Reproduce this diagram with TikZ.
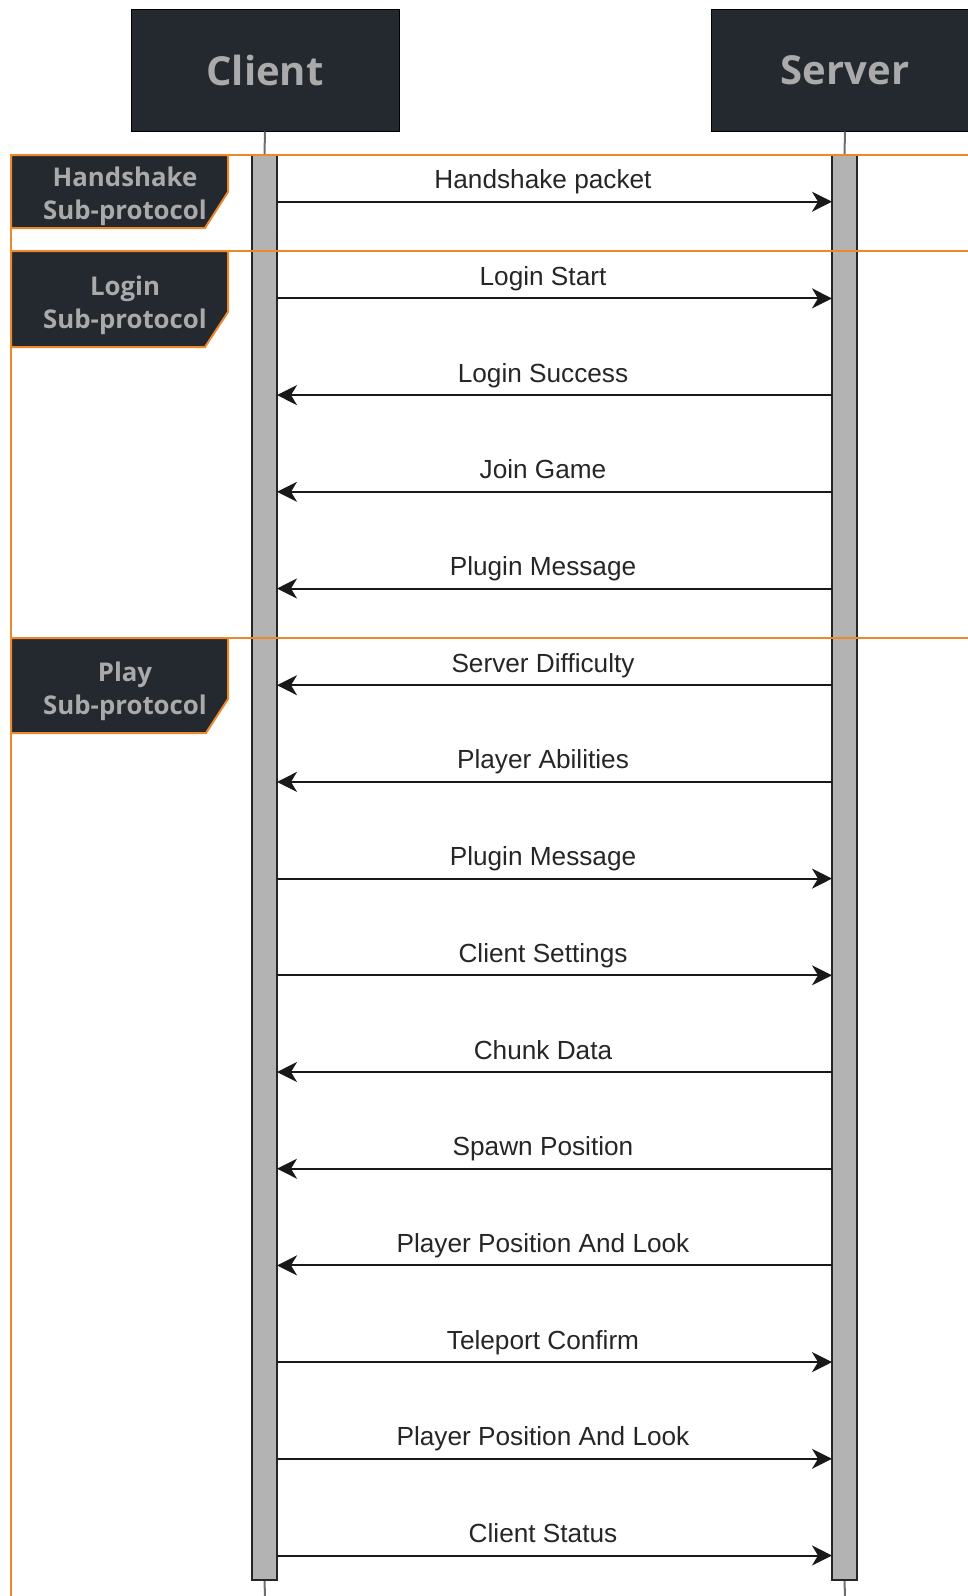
\documentclass[tikz,border=0pt]{standalone}
\usepackage{fontspec}
\setmainfont{Liberation Sans}
\newfontfamily\hdfont{Open Sans}
\usetikzlibrary{arrows.meta}
\definecolor{ink}{RGB}{36,41,48}
\definecolor{frameor}{RGB}{239,136,45}
\definecolor{hdtext}{RGB}{170,170,170}
\definecolor{barfill}{RGB}{179,179,179}
\definecolor{lifegray}{RGB}{110,110,110}
\begin{document}
\begin{tikzpicture}[x=0.5pt,y=-0.5pt,
  hdr/.style={draw=black, line width=0.5pt, fill=ink, minimum width=134pt,
    minimum height=61pt, inner sep=0pt, text=hdtext,
    font=\hdfont\bfseries\fontsize{20}{24}\selectfont},
  actbar/.style={draw=black!85, line width=1pt, fill=barfill,
    minimum width=12.5pt, inner sep=0pt},
  lifeline/.style={draw=lifegray, line width=1pt},
  frameline/.style={draw=frameor, line width=1pt},
  tagbox/.style={draw=frameor, line width=1pt, fill=ink},
  tagtext/.style={text=hdtext, align=center, inner sep=0pt,
    font=\hdfont\bfseries\fontsize{12.9}{16.5}\selectfont},
  msg/.style={draw=black!90, line width=1pt, -{Stealth[length=10pt,width=10pt,inset=3pt]}},
  msglabel/.style={anchor=base, inner sep=0pt, text=black!85,
    font=\fontsize{13.1}{15}\selectfont}
]
\useasboundingbox (0,0) rectangle (968,1596);
\clip (0,0) rectangle (968,1596);

% participants
\node[hdr] (client) at (265,70) {Client};
\node[hdr] (server) at (845,70) {Server};

% activation bars
\node[actbar, minimum height=712.5pt] (cbar) at (264.5,867.5) {};
\node[actbar, minimum height=712.5pt] (sbar) at (844.5,867.5) {};

% lifeline stubs above and below the bars
\coordinate (cend) at (265,1596);
\coordinate (send) at (845,1596);
\draw[lifeline] (client.south) -- (cbar.north);
\draw[lifeline] (server.south) -- (sbar.north);
\draw[lifeline] (cbar.south) -- (cend);
\draw[lifeline] (sbar.south) -- (send);

% sub-protocol frames
\draw[frameline] (11,155) rectangle (1000,251);
\draw[frameline] (11,251) rectangle (1000,638);
\draw[frameline] (11,638) rectangle (1000,1640);

% frame tags
\draw[tagbox] (11,155) -- (228,155) -- (228,192) -- (205,228) -- (11,228) -- cycle;
\node[tagtext] (tagHand) at (125,196) {Handshake\\Sub-protocol};
\draw[tagbox] (11,251) -- (228,251) -- (228,312) -- (205,347) -- (11,347) -- cycle;
\node[tagtext] (tagLogin) at (125,305) {Login\\Sub-protocol};
\draw[tagbox] (11,638) -- (228,638) -- (228,699) -- (206,733) -- (11,733) -- cycle;
\node[tagtext] (tagPlay) at (125,691) {Play\\Sub-protocol};

% messages
\foreach \txt/\a/\b [count=\k from 0] in {
  Handshake packet/c/s, Login Start/c/s, Login Success/s/c, Join Game/s/c,
  Plugin Message/s/c, Server Difficulty/s/c, Player Abilities/s/c,
  Plugin Message/c/s, Client Settings/c/s, Chunk Data/s/c,
  Spawn Position/s/c, Player Position And Look/s/c, Teleport Confirm/c/s,
  Player Position And Look/c/s, Client Status/c/s} {
  \pgfmathsetmacro\yy{201.7+96.7*\k}
  \coordinate (c\k) at (277,\yy);
  \coordinate (s\k) at (832,\yy);
  \draw[msg] (\a\k) -- (\b\k);
  \node[msglabel] (m\k) at (543,\yy-13) {\txt};
}
\end{tikzpicture}
\end{document}
